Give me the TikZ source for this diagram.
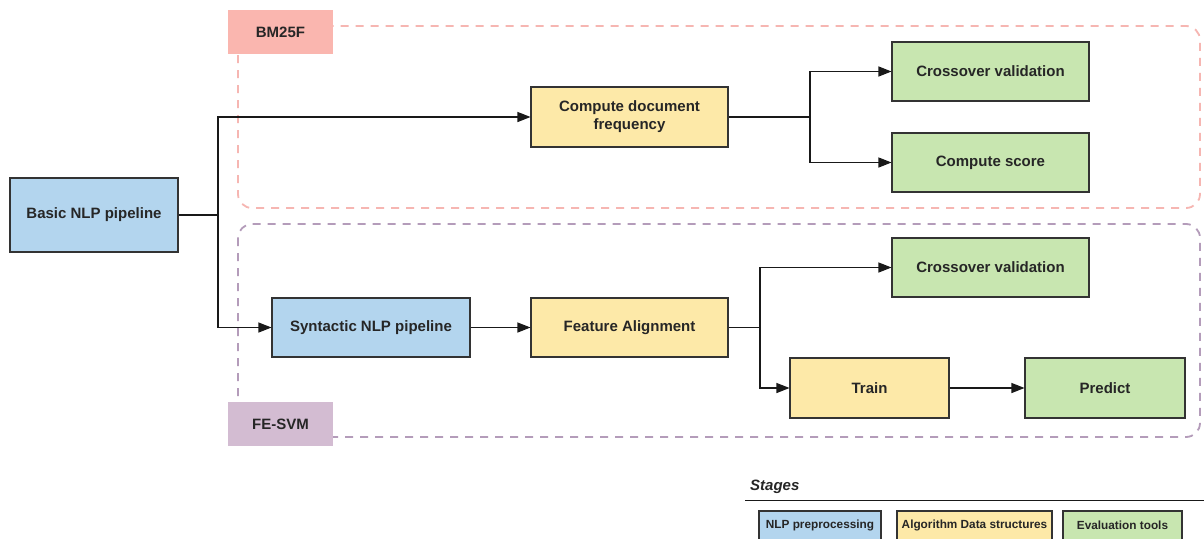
\documentclass[tikz,border=0pt]{standalone}
\usepackage{fontspec}
\setmainfont{Liberation Sans}
\usetikzlibrary{arrows.meta}
\definecolor{nlpblue}{HTML}{B3D5EE}
\definecolor{algyellow}{HTML}{FDE9A8}
\definecolor{evalgreen}{HTML}{C8E6B0}
\definecolor{bmpink}{HTML}{FAB6AF}
\definecolor{bmdash}{HTML}{F6B6B2}
\definecolor{svmpurple}{HTML}{D3BCD2}
\definecolor{svmdash}{HTML}{B49CBA}
\definecolor{edge}{HTML}{333333}
\tikzset{
  box/.style={draw=edge, line width=1.1pt, align=center, inner sep=0pt,
    font=\fontsize{15}{18}\selectfont\bfseries, text=black!85},
  nlpbox/.style={box, fill=nlpblue},
  algbox/.style={box, fill=algyellow},
  evalbox/.style={box, fill=evalgreen},
  groupbox/.style={line width=1.8pt, dash pattern=on 8pt off 7pt, rounded corners=14pt},
  grouplabel/.style={inner sep=0pt, minimum width=105pt, minimum height=44pt,
    font=\fontsize{15}{18}\selectfont\bfseries, text=black!85},
  arr/.style={line width=1.2pt, draw=black!90, -{Triangle[length=13pt,width=10pt]}},
  link/.style={line width=1.2pt, draw=black!90},
  legendbox/.style={draw=edge, line width=1.1pt},
  legendtext/.style={font=\fontsize{11.8}{14}\selectfont\bfseries, text=black!85, inner sep=0pt}
}
\begin{document}
\begin{tikzpicture}[x=1pt, y=-1pt]
\clip (0,0) rectangle (1204,538);
\fill[white] (0,0) rectangle (1204,538);

% group frames
\draw[groupbox, draw=bmdash] (238,26) rectangle (1200,208);
\draw[groupbox, draw=svmdash] (238,224) rectangle (1200,437);
\node[grouplabel, fill=bmpink] (bmlabel) at (280.5,32) {BM25F};
\node[grouplabel, fill=svmpurple] (svmlabel) at (280.5,424) {FE-SVM};

% stage boxes
\node[nlpbox, minimum width=168pt, minimum height=74pt] (basic) at (94,215) {Basic NLP pipeline};
\node[algbox, minimum width=197pt, minimum height=60pt] (docfreq) at (629.5,117) {Compute document\\frequency};
\node[evalbox, minimum width=197pt, minimum height=59pt] (cv1) at (990.5,71.5) {Crossover validation};
\node[evalbox, minimum width=197pt, minimum height=59pt] (score) at (990.5,162.5) {Compute score};
\node[evalbox, minimum width=197pt, minimum height=59pt] (cv2) at (990.5,267.5) {Crossover validation};
\node[nlpbox, minimum width=198pt, minimum height=59pt] (syn) at (371,327.5) {Syntactic NLP pipeline};
\node[algbox, minimum width=197pt, minimum height=59pt] (feat) at (629.5,327.5) {Feature Alignment};
\node[algbox, minimum width=159pt, minimum height=60pt] (train) at (869.5,388) {Train};
\node[evalbox, minimum width=160pt, minimum height=60pt] (predict) at (1105,388) {Predict};

% connectors
\coordinate (j1) at (218,215);
\draw[link] (basic.east) -- (j1);
\draw[arr] (j1) |- (docfreq.west);
\draw[arr] (j1) |- (syn.west);

\coordinate (j2) at (810,117);
\draw[link] (docfreq.east) -- (j2);
\draw[arr] (j2) |- (cv1.west);
\draw[arr] (j2) |- (score.west);

\draw[arr] (syn.east) -- (feat.west);

\coordinate (j3) at (760,327.5);
\draw[link] (feat.east) -- (j3);
\draw[arr] (j3) |- (cv2.west);
\draw[arr] (j3) |- (train.west);

\draw[arr] (train.east) -- (predict.west);

% legend
\node[font=\fontsize{15}{18}\selectfont\bfseries\itshape, text=black!85, anchor=west, inner sep=0pt] (stages) at (750,487) {Stages};
\coordinate (rulel) at (745,500.5);
\coordinate (ruler) at (1204,500.5);
\draw[line width=1.3pt, black!90] (rulel) -- (ruler);
\draw[legendbox, fill=nlpblue] (759,511) rectangle (881,560);
\draw[legendbox, fill=algyellow] (897,511) rectangle (1052,560);
\draw[legendbox, fill=evalgreen] (1063,511) rectangle (1182,560);
\node[legendtext] (lnlp) at (820,525) {NLP preprocessing};
\node[legendtext] (lalg) at (974.5,525) {Algorithm Data structures};
\node[legendtext] (leval) at (1122.5,525) {Evaluation tools};
\end{tikzpicture}
\end{document}
